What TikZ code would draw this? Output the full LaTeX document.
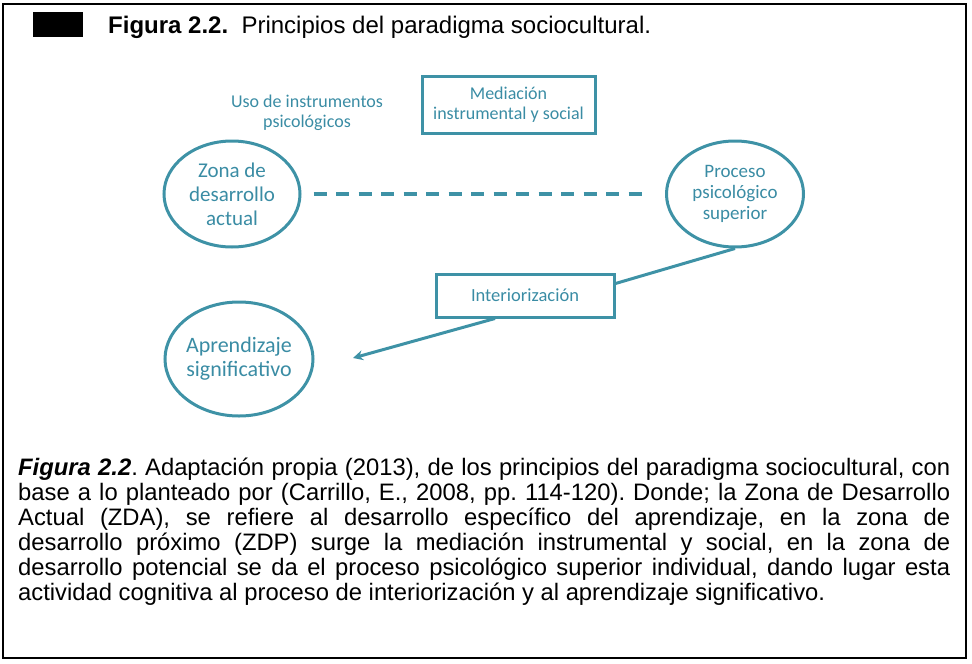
\documentclass[tikz,border=0pt]{standalone}
\usepackage{fontspec}
\setmainfont{Liberation Sans}
\newfontfamily\carl{Carlito}
\usetikzlibrary{shapes.geometric,arrows.meta}
\definecolor{teal1}{RGB}{62,146,166}
\definecolor{tealtxt}{RGB}{58,140,164}
\begin{document}
\begin{tikzpicture}[x=1pt,y=-1pt,
  ell/.style={ellipse,draw=teal1,line width=3pt,inner sep=-3pt,align=center,text=tealtxt},
  box/.style={rectangle,draw=teal1,line width=3pt,inner sep=0pt,align=center,text=tealtxt},
  conn/.style={draw=teal1,line width=3pt},
  lbl/.style={align=center,text=tealtxt,inner sep=0pt}]
\path[use as bounding box] (0,0) rectangle (972,664);
\draw[line width=2pt] (3,4) rectangle (966,658);
\fill (33,12) rectangle (83,37);
\node[anchor=base west,inner sep=0pt,font=\fontsize{24}{26}\selectfont] (title) at (108,33) {\textbf{Figura 2.2.}\ \ Principios del paradigma sociocultural.};

\node[lbl,font=\carl\fontsize{18}{20}\selectfont] (uso) at (307,113) {Uso de instrumentos\\psicológicos};
\node[box,minimum width=173pt,minimum height=57pt,font=\carl\fontsize{18}{20}\selectfont] (med) at (508.5,104.5) {Mediación\\instrumental y social};
\node[ell,minimum width=136pt,minimum height=106pt,font=\carl\fontsize{21}{24}\selectfont] (zda) at (232,194) {Zona de\\desarrollo\\actual};
\node[ell,minimum width=137pt,minimum height=106pt,font=\carl\fontsize{19}{21}\selectfont] (pps) at (735,194) {Proceso\\psicológico\\superior};
\node[box,minimum width=178pt,minimum height=43pt,font=\carl\fontsize{18.5}{20}\selectfont] (int) at (525,295.5) {Interiorización};
\node[ell,minimum width=148pt,minimum height=114pt,font=\carl\fontsize{22}{24}\selectfont] (as) at (239,359) {Aprendizaje\\significativo};
\coordinate (tip) at (353,358);

\draw[conn,line width=3.5pt,dash pattern=on 13pt off 9.5pt,shorten <=12pt,shorten >=20pt] (zda.east) -- (pps.west);
\draw[conn] (pps.south) -- ([yshift=12pt]int.east);
\draw[conn,-{Stealth[length=10pt,width=10pt]}] ([xshift=-30pt]int.south) -- (tip);

\node[anchor=base west,inner sep=0pt,text width=932pt,align=justify,font=\fontsize{23.8}{25}\selectfont\frenchspacing] (cap) at (18,475) {\textbf{\textit{Figura 2.2}}. Adaptación propia (2013), de los principios del paradigma sociocultural, con\linebreak
base a lo planteado por (Carrillo, E., 2008, pp. 114-120). Donde; la Zona de Desarrollo\linebreak
Actual (ZDA), se refiere al desarrollo específico del aprendizaje, en la zona de\linebreak
desarrollo próximo (ZDP) surge la mediación instrumental y social, en la zona de\linebreak
desarrollo potencial se da el proceso psicológico superior individual, dando lugar esta\linebreak
actividad cognitiva al proceso de interiorización y al aprendizaje significativo.};
\end{tikzpicture}
\end{document}
